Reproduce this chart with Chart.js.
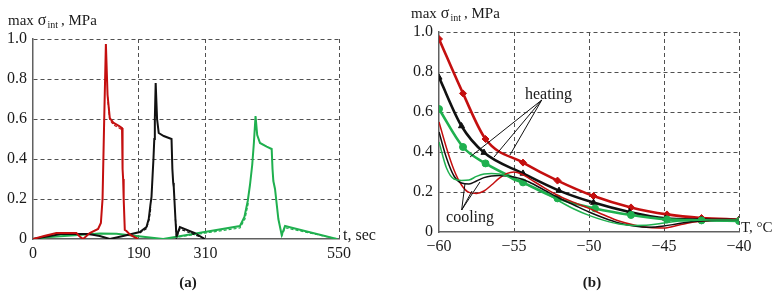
<!DOCTYPE html>
<html><head><meta charset="utf-8">
<script src="https://cdn.jsdelivr.net/npm/chart.js@4/dist/chart.umd.min.js"></script>
<style>
html,body{margin:0;padding:0;background:#fff;}
#wrap{position:relative;width:781px;height:294px;overflow:hidden;}
canvas{position:absolute;top:0;}
#ca{left:0;} #cb{left:390px;}
</style></head><body>
<div id="wrap"><canvas id="ca" width="390" height="294"></canvas><canvas id="cb" width="391" height="294"></canvas></div>
<script>
// ---------- Panel (a): max stress vs time ----------
const xTicksA = [0, 190, 310, 550];
const yTicks = [0, 0.2, 0.4, 0.6, 0.8, 1.0];
const redT = [0, 20, 42, 78, 84, 90, 102, 117, 122, 125, 128, 131, 134, 138, 145, 155, 160, 161, 162, 163, 165, 168, 175, 189];
const redV = [0, 0.015, 0.03, 0.03, 0.012, 0, 0.03, 0.05, 0.08, 0.2, 0.6, 0.975, 0.72, 0.605, 0.58, 0.565, 0.555, 0.35, 0.3, 0.2, 0.045, 0.04, 0.02, 0];
const blackT = [0, 50, 100, 120, 138, 162, 192, 204, 208, 211, 213, 215, 216.5, 218, 219, 220.5, 223, 226, 235, 249, 250.5, 252, 253, 256, 258, 264, 290, 309];
const blackV = [0, 0.025, 0.025, 0.015, 0, 0.015, 0.035, 0.06, 0.1, 0.17, 0.21, 0.32, 0.4, 0.5, 0.6, 0.78, 0.6, 0.53, 0.515, 0.5, 0.35, 0.28, 0.26, 0.1, 0.012, 0.06, 0.03, 0];
const greenT = [0, 30, 120, 150, 234, 372, 380, 386, 390, 394, 397, 400, 403, 408, 420, 429, 430.5, 432, 435, 441, 447, 453, 460, 546];
const greenV = [0, 0.01, 0.028, 0.026, 0, 0.065, 0.11, 0.19, 0.27, 0.37, 0.48, 0.615, 0.52, 0.48, 0.462, 0.45, 0.35, 0.29, 0.25, 0.1, 0.02, 0.065, 0.06, 0];
// dashed companion traces (read separately where visible)
const greenDashT = [236, 372, 381, 387, null, 447, 453, 460, 548];
const greenDashV = [0, 0.055, 0.1, 0.18, null, 0.012, 0.056, 0.052, 0];
const blackDashT = [192, 204, 209, 212, null, 256, 258, 264, 290, 310];
const blackDashV = [0.03, 0.052, 0.1, 0.16, null, 0.1, 0.008, 0.05, 0.022, 0];
const redDashT = [134, 138, 145, 155, 160];
const redDashV = [0.71, 0.595, 0.57, 0.555, 0.545];

// ---------- Panel (b): max stress vs temperature ----------
const xTicksB = [-60, -55, -50, -45, -40];
const redHeatT = [-60, -58.4, -56.9, -54.4, -52.1, -49.7, -47.2, -44.8, -42.5, -40];
const redHeatV = [0.965, 0.693, 0.465, 0.347, 0.257, 0.18, 0.123, 0.088, 0.07, 0.062];
const blackHeatT = [-60, -58.5, -57, -54.4, -52.0, -49.7, -47.3, -44.9, -42.5, -40];
const blackHeatV = [0.773, 0.53, 0.397, 0.293, 0.207, 0.147, 0.1, 0.068, 0.062, 0.06];
const greenHeatT = [-60, -58.4, -56.9, -54.4, -52.1, -49.6, -47.2, -44.8, -42.5, -40];
const greenHeatV = [0.615, 0.425, 0.343, 0.248, 0.168, 0.118, 0.085, 0.063, 0.058, 0.055];
const coolT = [-60, -59.5, -59, -58.5, -58, -57.5, -57, -56.5, -56, -55.5, -55, -54.5, -54, -53, -52, -51, -50, -49, -48, -47, -46, -45, -44, -43, -42, -41, -40];
const redCoolV = [0.55, 0.42, 0.31, 0.235, 0.198, 0.193, 0.205, 0.235, 0.268, 0.292, 0.3, 0.29, 0.268, 0.222, 0.18, 0.148, 0.118, 0.085, 0.055, 0.035, 0.022, 0.02, 0.035, 0.05, 0.058, 0.061, 0.062];
const blackCoolV = [0.5, 0.37, 0.28, 0.245, 0.24, 0.255, 0.272, 0.28, 0.282, 0.28, 0.275, 0.265, 0.25, 0.21, 0.17, 0.135, 0.1, 0.07, 0.045, 0.03, 0.024, 0.03, 0.042, 0.052, 0.058, 0.06, 0.06];
const greenCoolV = [0.45, 0.32, 0.265, 0.258, 0.26, 0.278, 0.29, 0.292, 0.29, 0.28, 0.26, 0.246, 0.232, 0.2, 0.155, 0.115, 0.083, 0.058, 0.04, 0.033, 0.035, 0.045, 0.055, 0.058, 0.06, 0.06, 0.06];
// annotation anchors (data coordinates)
const heatingLabel = {x: -52.7, y: 0.685, text: 'heating'};
const heatingApex = [-53.15, 0.66];
const heatingEnds = [[-57.93, 0.375], [-56.33, 0.375], [-55.27, 0.385]];
const coolingLabel = {x: -57.93, y: 0.07, text: 'cooling'};
const coolingApex = [-58.49, 0.11];
const coolingEnds = [[-58.27, 0.24], [-57.8, 0.205], [-57.27, 0.25]];

const RED = '#c40f0f', BLACK = '#111111', GREEN = '#1fb04f';
const GRID = '#505050', AXIS = '#606060', TXT = '#1a1a1a';
const FONT = "'Liberation Serif', 'DejaVu Serif', serif";

function pts(xs, ys) { return xs.map((x, i) => (x === null ? {x: null, y: null} : {x: x, y: ys[i]})); }
function fmtY(v) { return v === 0 ? '0' : v.toFixed(1); }

function drawTitle(ctx, x, y) {
  ctx.save();
  ctx.fillStyle = TXT; ctx.textBaseline = 'alphabetic'; ctx.textAlign = 'left';
  ctx.font = '15px ' + FONT;
  let cx = x;
  ctx.fillText('max', cx, y); cx += ctx.measureText('max').width + 4;
  ctx.font = '16px ' + FONT;
  ctx.fillText('σ', cx, y); cx += ctx.measureText('σ').width + 1;
  ctx.font = '10px ' + FONT;
  ctx.fillText('int', cx, y + 3); cx += ctx.measureText('int').width + 3;
  ctx.font = '15px ' + FONT;
  ctx.fillText(', MPa', cx, y);
  ctx.restore();
}

function scalesCfg(xmin, xmax, xt, yw, fmtX) {
  return {
    x: {
      type: 'linear', min: xmin, max: xmax,
      afterBuildTicks: s => { s.ticks = xt.map(v => ({value: v})); },
      afterFit: s => { s.height = 20; },
      ticks: {color: TXT, font: {family: FONT, size: 16}, padding: 5, maxRotation: 0, autoSkip: false, callback: fmtX},
      grid: {drawTicks: false, color: c => (c.tick && c.tick.value === xmin) ? 'rgba(0,0,0,0)' : GRID, lineWidth: 1},
      border: {display: true, color: AXIS, width: 1.5, dash: [4, 3]}
    },
    y: {
      type: 'linear', min: 0, max: 1,
      afterBuildTicks: s => { s.ticks = yTicks.map(v => ({value: v})); },
      afterFit: s => { s.width = yw; },
      ticks: {color: TXT, font: {family: FONT, size: 16}, padding: 6, callback: v => fmtY(v)},
      grid: {drawTicks: false, color: c => (c.tick && c.tick.value === 0) ? 'rgba(0,0,0,0)' : GRID, lineWidth: 1},
      border: {display: true, color: AXIS, width: 1.5, dash: [4, 3]}
    }
  };
}

const plainOpts = {
  responsive: false, animation: false, devicePixelRatio: 1,
  plugins: {legend: {display: false}, tooltip: {enabled: false}},
  elements: {line: {fill: false}},
  spanGaps: false
};

// ---- Chart (a)
const titleA = {
  id: 'titleA',
  afterDraw(chart) {
    const ctx = chart.ctx, a = chart.chartArea;
    drawTitle(ctx, 8, 25);
    ctx.save();
    ctx.fillStyle = TXT; ctx.font = '16px ' + FONT; ctx.textBaseline = 'middle';
    ctx.fillText('t, sec', a.right + 4, a.bottom - 3);
    ctx.font = 'bold 15px ' + FONT; ctx.textAlign = 'center';
    ctx.fillText('(a)', 188, 283);
    ctx.restore();
  }
};
const dashTrace = (xs, ys, c) => ({data: pts(xs, ys), borderColor: c, borderWidth: 1.2, borderDash: [3, 2], pointRadius: 0, tension: 0});
new Chart(document.getElementById('ca'), {
  type: 'line',
  data: {datasets: [
    dashTrace(redDashT, redDashV, RED),
    dashTrace(blackDashT, blackDashV, BLACK),
    dashTrace(greenDashT, greenDashV, GREEN),
    {data: pts(redT, redV), borderColor: RED, borderWidth: 2, pointRadius: 0, tension: 0},
    {data: pts(blackT, blackV), borderColor: BLACK, borderWidth: 2, pointRadius: 0, tension: 0},
    {data: pts(greenT, greenV), borderColor: GREEN, borderWidth: 2, pointRadius: 0, tension: 0}
  ]},
  options: Object.assign({}, plainOpts, {
    layout: {padding: {left: 0, right: 51, top: 39, bottom: 35}},
    scales: scalesCfg(0, 550, xTicksA, 33, v => String(v))
  }),
  plugins: [titleA]
});

// ---- Chart (b)
const annB = {
  id: 'annB',
  afterDatasetsDraw(chart) {
    const ctx = chart.ctx, xs = chart.scales.x, ys = chart.scales.y;
    const P = p => [xs.getPixelForValue(p[0]), ys.getPixelForValue(p[1])];
    ctx.save();
    ctx.strokeStyle = BLACK; ctx.lineWidth = 1;
    [[heatingApex, heatingEnds], [coolingApex, coolingEnds]].forEach(([ap, ends]) => {
      const a = P(ap);
      ends.forEach(e => {
        const b = P(e);
        ctx.beginPath(); ctx.moveTo(a[0], a[1]); ctx.lineTo(b[0], b[1]); ctx.stroke();
      });
    });
    ctx.fillStyle = TXT; ctx.font = '16px ' + FONT; ctx.textAlign = 'center'; ctx.textBaseline = 'middle';
    [heatingLabel, coolingLabel].forEach(l => {
      const p = P([l.x, l.y]);
      ctx.fillText(l.text, p[0], p[1]);
    });
    ctx.restore();
  },
  afterDraw(chart) {
    const ctx = chart.ctx, a = chart.chartArea;
    drawTitle(ctx, 21, 18);
    ctx.save();
    ctx.fillStyle = TXT; ctx.font = '15px ' + FONT; ctx.textBaseline = 'middle';
    ctx.fillText('T, °C', a.right + 2, a.bottom - 4);
    ctx.font = 'bold 15px ' + FONT; ctx.textAlign = 'center';
    ctx.fillText('(b)', 202, 283);
    ctx.restore();
  }
};
const thin = (xs, ys, c) => ({data: pts(xs, ys), borderColor: c, borderWidth: 1.5, pointRadius: 0, cubicInterpolationMode: 'monotone'});
const thick = (xs, ys, c, ps) => ({data: pts(xs, ys), borderColor: c, backgroundColor: c, borderWidth: 2.6, pointRadius: 3.5, pointStyle: ps, pointBorderWidth: 1, cubicInterpolationMode: 'monotone'});
new Chart(document.getElementById('cb'), {
  type: 'line',
  data: {datasets: [
    thin(coolT, greenCoolV, GREEN),
    thin(coolT, blackCoolV, BLACK),
    thin(coolT, redCoolV, RED),
    thick(greenHeatT, greenHeatV, GREEN, 'circle'),
    thick(blackHeatT, blackHeatV, BLACK, 'triangle'),
    thick(redHeatT, redHeatV, RED, 'rectRot')
  ]},
  options: Object.assign({}, plainOpts, {
    layout: {padding: {left: 0, right: 42, top: 32, bottom: 42}},
    scales: scalesCfg(-60, -40, xTicksB, 49, v => String(v).replace('-', '\u2212'))
  }),
  plugins: [annB]
});
</script>
</body></html>
